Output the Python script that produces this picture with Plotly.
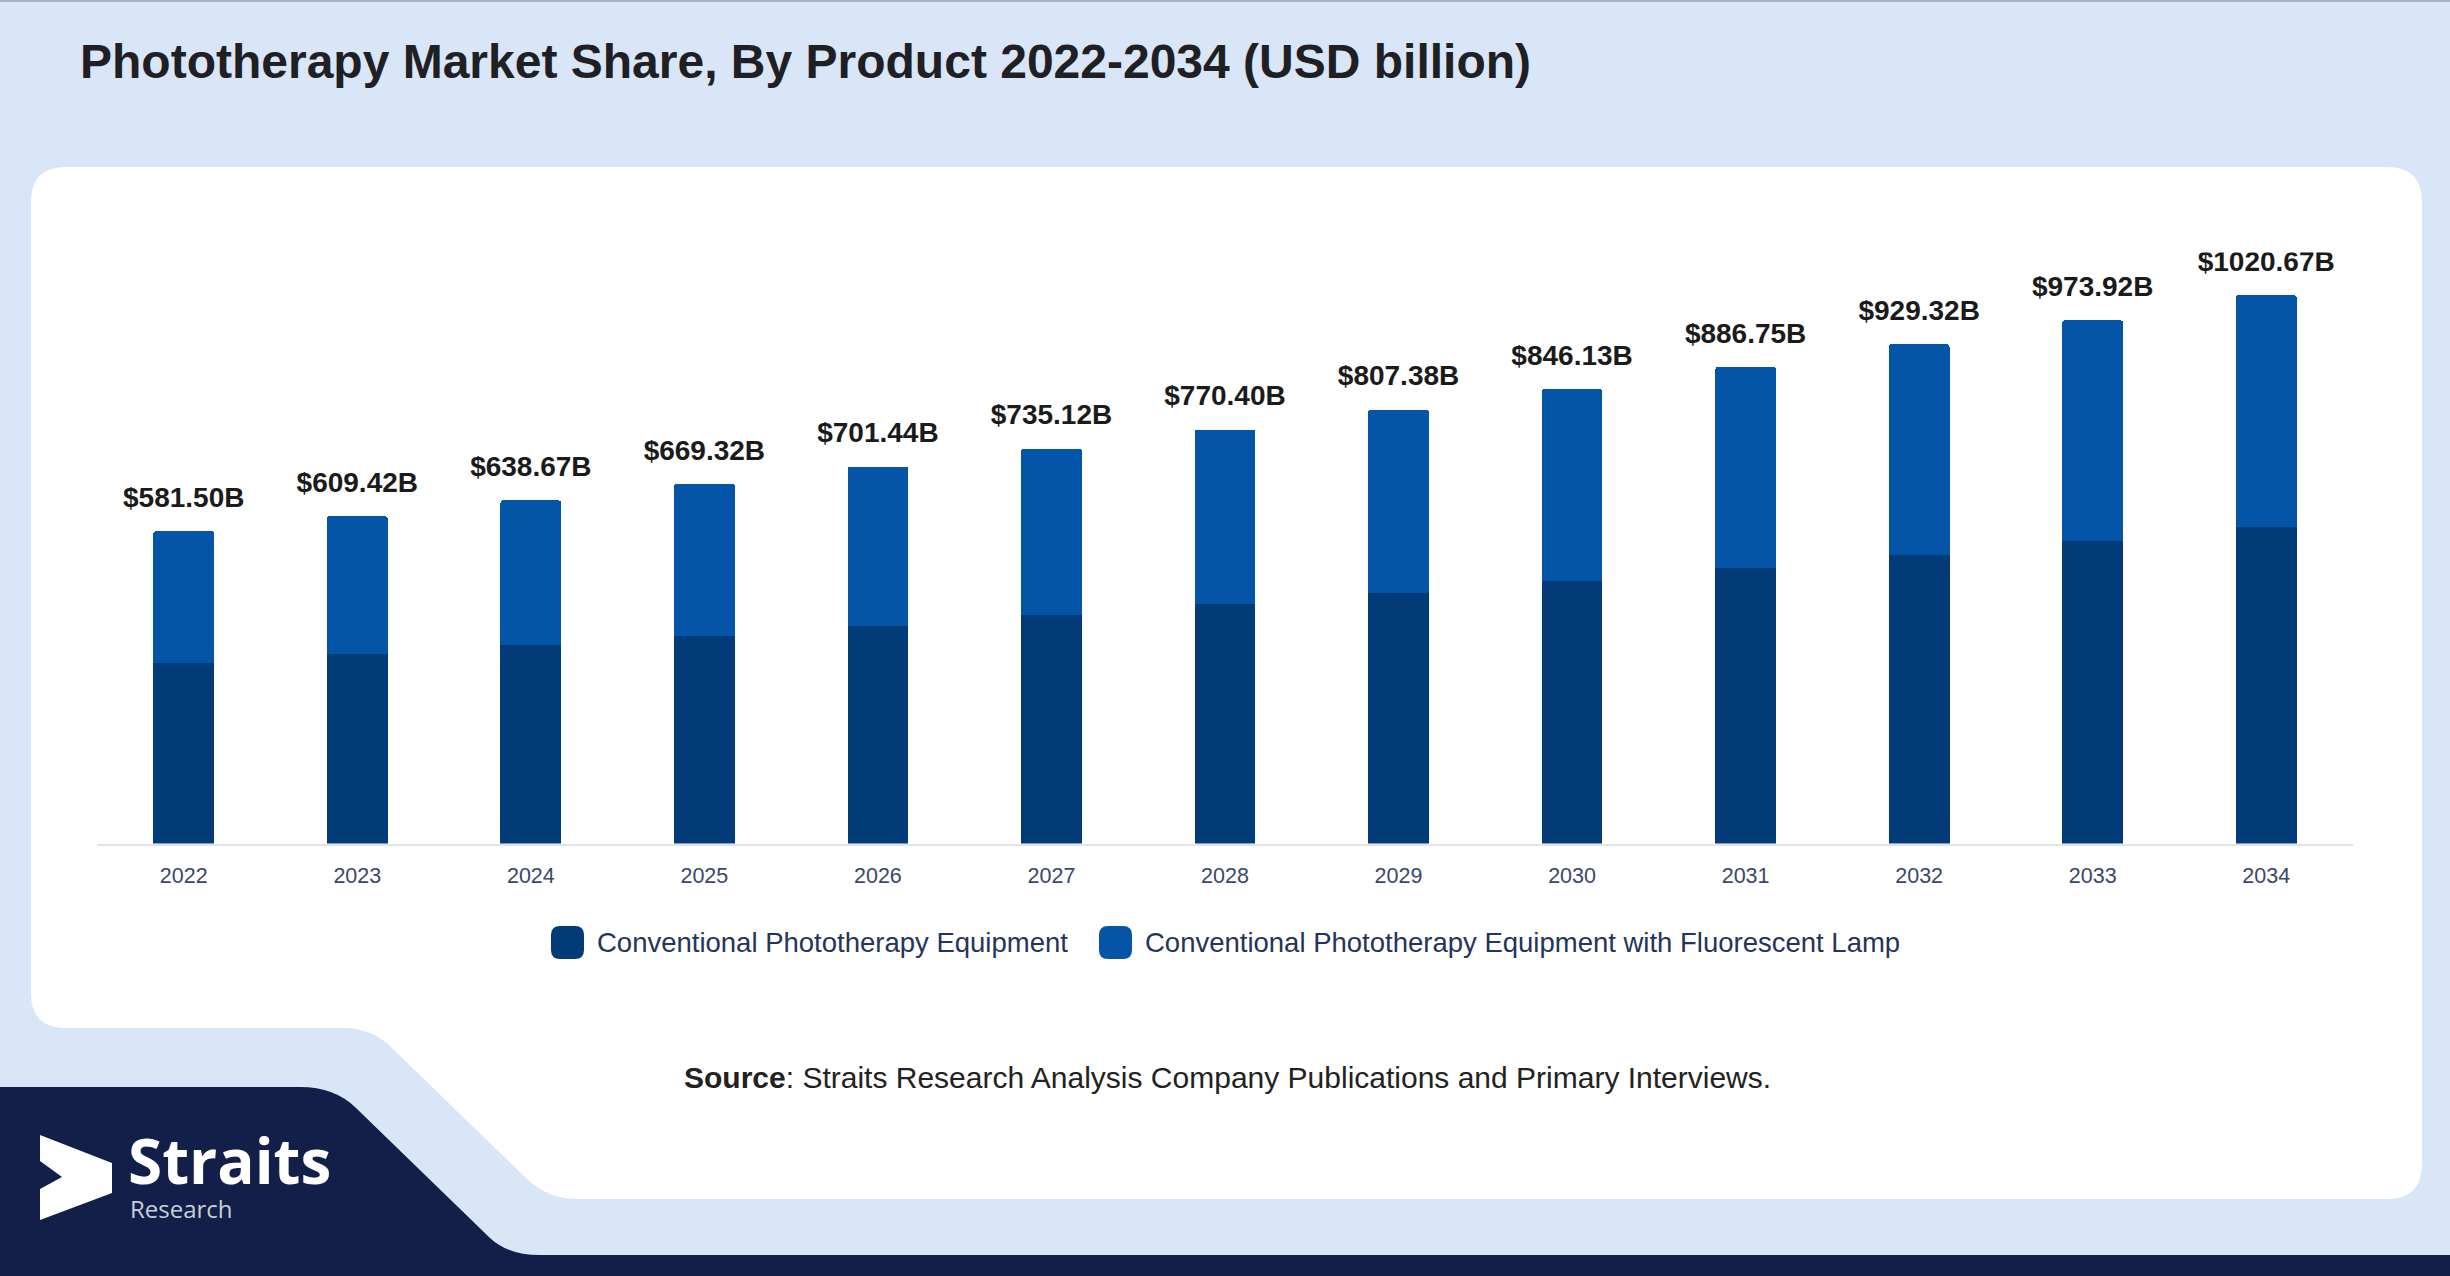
import plotly.graph_objects as go

W, H = 2450, 1276

years = ["2022", "2023", "2024", "2025", "2026", "2027", "2028",
         "2029", "2030", "2031", "2032", "2033", "2034"]
totals = [581.50, 609.42, 638.67, 669.32, 701.44, 735.12, 770.40,
          807.38, 846.13, 886.75, 929.32, 973.92, 1020.67]
# conventional equipment (dark, bottom of stack)
conventional = [336.1, 352.2, 369.2, 386.9, 405.4, 424.9, 445.3,
                466.7, 489.1, 512.5, 537.1, 562.9, 589.9]
# equipment with fluorescent lamp (lighter, top of stack)
fluorescent = [245.4, 257.2, 269.5, 282.4, 296.0, 310.2, 325.1,
               340.7, 357.0, 374.3, 392.2, 411.0, 430.8]

series_names = ["Conventional Phototherapy Equipment",
                "Conventional Phototherapy Equipment with Fluorescent Lamp"]
series_colors = ["#033b79", "#0455a8"]

title_text = "Phototherapy Market Share, By Product 2022-2034 (USD billion)"
source_text = "<b>Source</b>: Straits Research Analysis Company Publications and Primary Interviews."

FONT = "Liberation Sans, Arial, sans-serif"


def px(x, y):
    return f"{x / W:.5f},{1 - y / H:.5f}"


def path(cmds):
    out = []
    for c in cmds:
        op, nums = c[0], c[1:]
        if op == "Z":
            out.append("Z")
            continue
        pts = [px(nums[i], nums[i + 1]) for i in range(0, len(nums), 2)]
        out.append(op + " ".join(pts))
    return " ".join(out)


def rounded_rect(x0, y0, x1, y1, r):
    return path([
        ("M", x0 + r, y0), ("L", x1 - r, y0), ("Q", x1, y0, x1, y0 + r),
        ("L", x1, y1 - r), ("Q", x1, y1, x1 - r, y1),
        ("L", x0 + r, y1), ("Q", x0, y1, x0, y1 - r),
        ("L", x0, y0 + r), ("Q", x0, y0, x0 + r, y0), ("Z",),
    ])


fig = go.Figure()
fig.add_trace(go.Bar(x=years, y=conventional, name=series_names[0],
                     marker=dict(color=series_colors[0], line=dict(width=0))))
fig.add_trace(go.Bar(x=years, y=fluorescent, name=series_names[1],
                     marker=dict(color=series_colors[1], line=dict(width=0))))
# total labels; the invisible marker only pushes the text up off the bar top
fig.add_trace(go.Scatter(x=years, y=totals, mode="markers+text",
                         marker=dict(size=26, opacity=0),
                         text=[f"${v:.2f}B" for v in totals],
                         textposition="top center",
                         textfont=dict(family=FONT, size=28, color="#1b1b1b", weight="bold"),
                         hoverinfo="skip"))

shapes = [
    # thin top border
    dict(type="rect", xref="paper", yref="paper", x0=0, x1=1, y0=1 - 2 / H, y1=1,
         fillcolor="#a3b2cc", line=dict(width=0), layer="below"),
    # white card
    dict(type="path", xref="paper", yref="paper", layer="below",
         fillcolor="white", line=dict(width=0),
         path=path([("M", 66, 167), ("L", 2387, 167), ("Q", 2422, 167, 2422, 202),
                    ("L", 2422, 1164), ("Q", 2422, 1199, 2387, 1199),
                    ("L", 578, 1199), ("Q", 548, 1199, 527, 1179),
                    ("L", 393, 1049), ("Q", 373, 1028, 343, 1028),
                    ("L", 66, 1028), ("Q", 31, 1028, 31, 993),
                    ("L", 31, 202), ("Q", 31, 167, 66, 167), ("Z",)])),
    # navy footer
    dict(type="path", xref="paper", yref="paper", layer="below",
         fillcolor="#121f48", line=dict(width=0),
         path=path([("M", 0, 1087), ("L", 300, 1087), ("Q", 335, 1087, 356, 1108),
                    ("L", 490, 1238), ("Q", 508, 1255, 540, 1255),
                    ("L", 2450, 1255), ("L", 2450, 1276), ("L", 0, 1276), ("Z",)])),
    # logo arrow
    dict(type="path", xref="paper", yref="paper", layer="above",
         fillcolor="white", line=dict(width=0),
         path=path([("M", 40, 1135), ("L", 112, 1163), ("L", 112, 1193),
                    ("L", 40, 1220), ("L", 40, 1189), ("L", 62, 1177),
                    ("L", 40, 1161), ("Z",)])),
]

# legend keys
legend_x = [(551, 595), (1099, 1143)]
for (sx, tx), color in zip(legend_x, series_colors):
    shapes.append(dict(type="path", xref="paper", yref="paper", layer="above",
                       fillcolor=color, line=dict(width=0),
                       path=rounded_rect(sx, 926, sx + 33, 959, 9)))

annotations = [
    dict(text=f"<b>{title_text}</b>", x=78 / W, y=1 - 61.5 / H, xref="paper", yref="paper",
         xanchor="left", yanchor="middle", showarrow=False,
         font=dict(family=FONT, size=48, color="#1e2024")),
    dict(text=source_text, x=682 / W, y=1 - 1077.5 / H, xref="paper", yref="paper",
         xanchor="left", yanchor="middle", showarrow=False,
         font=dict(family=FONT, size=30, color="#222222")),
    dict(text="<b>Straits</b>", x=126 / W, y=1 - 1160 / H, xref="paper", yref="paper",
         xanchor="left", yanchor="middle", showarrow=False,
         font=dict(family="Open Sans", size=62, color="white")),
    dict(text="Research", x=128 / W, y=1 - 1208 / H, xref="paper", yref="paper",
         xanchor="left", yanchor="middle", showarrow=False,
         font=dict(family="Open Sans", size=24, color="#c9cfdb")),
]
for (sx, tx), name in zip(legend_x, series_names):
    annotations.append(dict(text=name, x=tx / W, y=1 - 942 / H, xref="paper", yref="paper",
                            xanchor="left", yanchor="middle", showarrow=False,
                            font=dict(family=FONT, size=27.5, color="#24345a")))

fig.update_layout(
    width=W, height=H,
    margin=dict(l=0, r=0, t=0, b=0),
    paper_bgcolor="#d9e6f8",
    plot_bgcolor="rgba(0,0,0,0)",
    barmode="stack", bargap=0.65, barcornerradius=3,
    showlegend=False,
    shapes=shapes, annotations=annotations,
    xaxis=dict(domain=[97 / W, 2353 / W], type="category", range=[-0.5, 12.5],
               showline=True, linecolor="#e2e4e8", linewidth=2, showgrid=False,
               ticks="", automargin=False, ticklabelstandoff=12,
               tickfont=dict(family=FONT, size=21.5, color="#3a4868")),
    yaxis=dict(domain=[1 - 843.5 / H, 1 - 252.5 / H], range=[0, 1100],
               visible=False, automargin=False, showgrid=False, zeroline=False),
)

fig.write_html("out.html", config={"displayModeBar": False},
               post_script="document.body.style.margin='0';document.body.style.overflow='hidden';")
